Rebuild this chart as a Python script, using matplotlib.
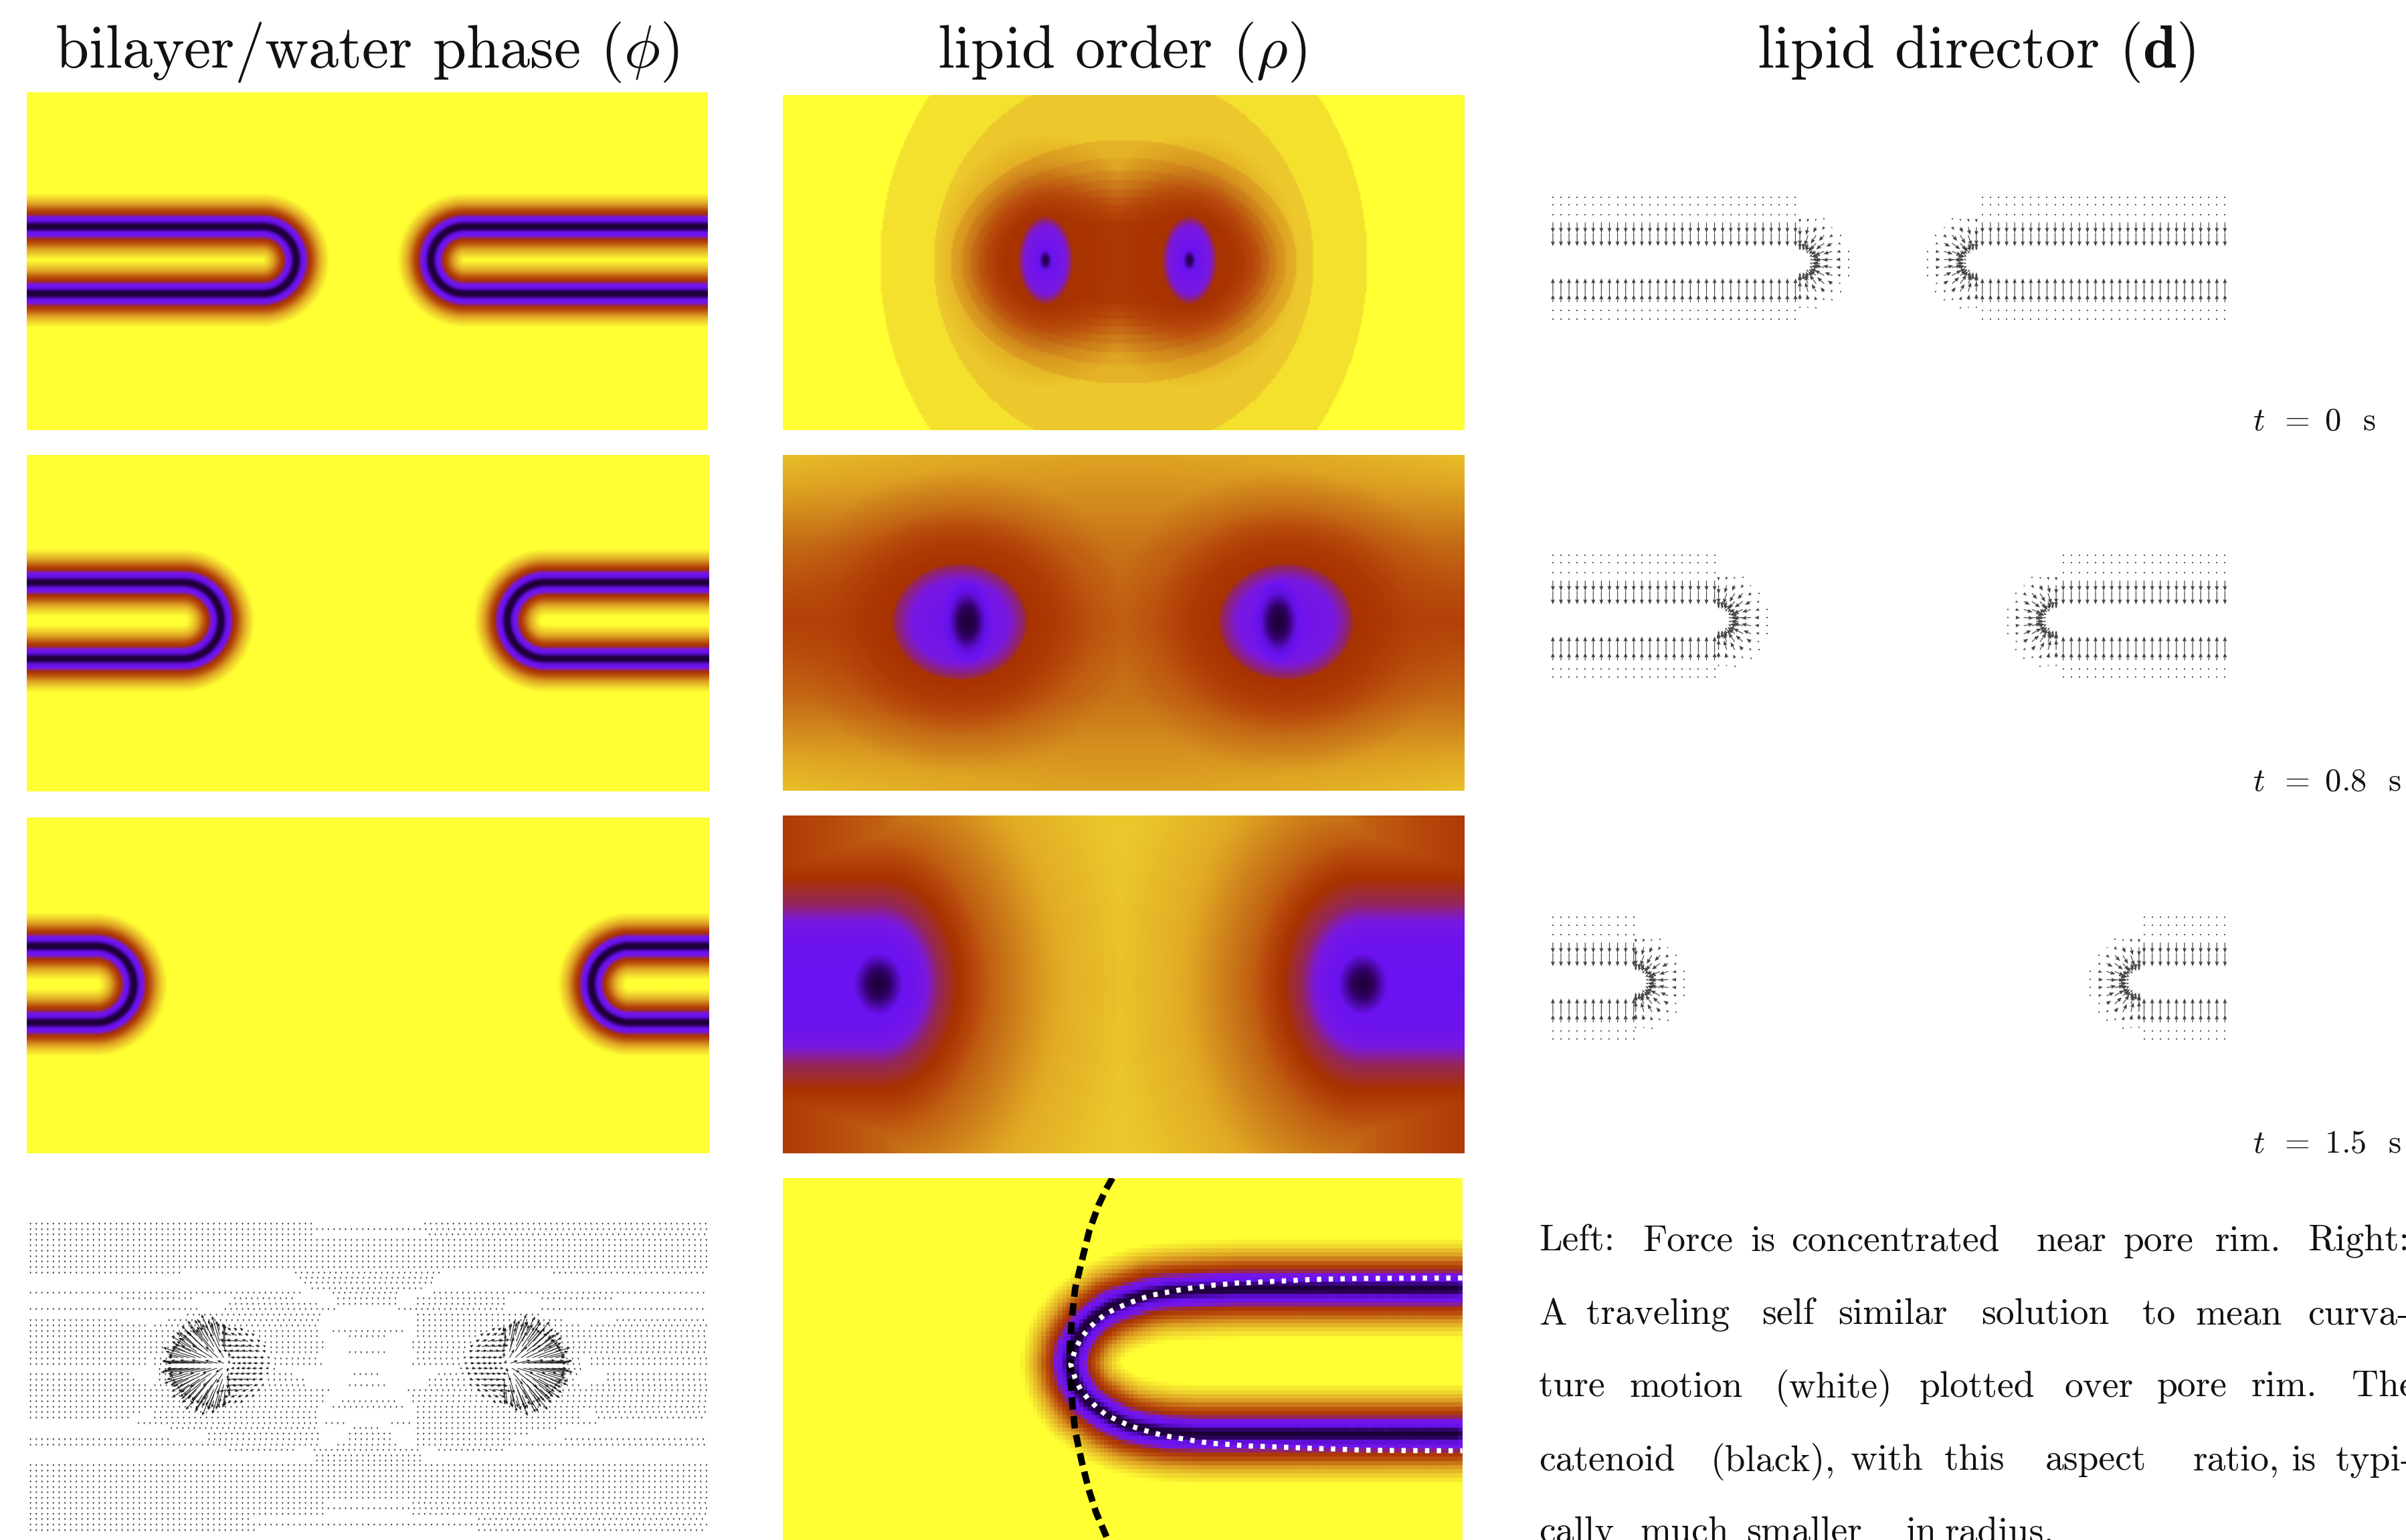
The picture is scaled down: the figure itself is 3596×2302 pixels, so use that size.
import numpy as np
import matplotlib
matplotlib.use("Agg")
import matplotlib.pyplot as plt
from matplotlib.colors import LinearSegmentedColormap

plt.rcParams['mathtext.fontset'] = 'cm'
plt.rcParams['font.family'] = ['cmr10', 'DejaVu Serif']
plt.rcParams['axes.formatter.use_mathtext'] = True

# The simulation fields themselves are not recoverable cell by cell; they are
# rebuilt from the rim positions and level-set sizes.
W, H = 1568.0, 1004.0

TITLES = [r"bilayer/water phase ($\phi$)", r"lipid order ($\rho$)", r"lipid director ($\mathbf{d}$)"]
TITLE_X = [239, 731, 1288]
TIME_LABELS = [r"$t\ \,=\ 0$  s", r"$t\ \,=\ 0.8$  s", r"$t\ \,=\ 1.5$  s"]
TIME_Y = [275, 510, 746]
CAPTION_WORDS = [
    ["Left:", "Force", "is", "concentrated", "near", "pore", "rim.", "Right:"],
    ["A", "traveling", "self", "similar", "solution", "to", "mean", "curva-"],
    ["ture", "motion", "(white)", "plotted", "over", "pore", "rim.", "The"],
    ["catenoid", "(black),", "with", "this", "aspect", "ratio,", "is", "typi-"],
    ["cally", "much", "smaller", "in", "radius."],
]
CAPTION_X = [
    [1003, 1070.5, 1141, 1167.5, 1327, 1384, 1443.6, 1504],
    [1003, 1034, 1148, 1198, 1291, 1396, 1431, 1504],
    [1003, 1062, 1156.6, 1251, 1345.5, 1405.5, 1467, 1532.6],
    [1003, 1115, 1206, 1267, 1333, 1429, 1493, 1522],
    [1003, 1069, 1138, 1242, 1267.5],
]
CAPTION_Y = [807, 855, 902, 950, 997]

# colour scale
CMAP_POS = [0, .08, .2, .27, .33, .42, .5, .6, .72, .85, .95, 1]
CMAP_COL = ['#1c0033', '#2e0060', '#6a12f0', '#7a18e0', '#8a2090', '#a83200',
            '#b84a0c', '#c87418', '#dfa423', '#ecc82c', '#f8ec30', '#ffff33']
cmap = LinearSegmentedColormap.from_list('rim', list(zip(CMAP_POS, CMAP_COL)), N=512)

# phi panels: rim profile (distance from bilayer mid-line -> colour value)
PROFILE_D = [0, 1.2, 2.6, 4, 6, 7.4, 8.5, 11, 15, 18, 22]
PROFILE_V = [0, .03, .14, .2, .25, .36, .42, .52, .72, .87, 1]
# per frame: axis y, half thickness, left rim tip x, right rim tip x
PHI_Y0 = [170, 405, 642]
PHI_H = [22, 25, 25]
PHI_LEFT = [193, 144, 87]
PHI_RIGHT = [281, 331, 386]
PHI_BOX = [(17.5, 461, 60, 280.5), (17.5, 462, 296.5, 516), (17.5, 462, 533, 752)]

RHO_BOX = [(510, 954, 62, 280.5), (510, 954, 296.5, 515.5), (510, 954, 531.5, 752)]
# rho t=0: nested level sets (half width, half height, value)
RHO0_A = [159, 124, 113, 106, 100, 95, 90, 85, 80, 75, 68]
RHO0_B = [181, 125, 80, 68, 60, 54, 48, 43, 38, 33, 28]
RHO0_V = [.92, .85, .77, .73, .69, .65, .61, .57, .53, .5, .46]
RHO0_BLOBS = [(681, 170), (775, 170)]
RHO0_E = [0, .3, 1, 1.3, 1.6]
RHO0_EV = [0, .2, .27, .4, 1]
RHO0_H = [.8, 1.2, 1.8, 2.4]
RHO0_HW = [1, .7, .25, 0]
RHO_HALO = .42
# rho t=0.8
RHO1_BLOBS = [(625, 405.5), (838, 405.5)]
RHO1_CORES = [(630, 405.5), (833, 405.5)]
RHO1_DY = [0, .45, 1]
RHO1_DYV = [.56, .6, .72]
RHO1_E = [0, .85, 1.0, 1.2, 1.5]
RHO1_EV = [.2, .26, .31, .38, 1]
RHO1_HE = [1.2, 1.7, 2.4, 3.2]
RHO1_HW = [1, .8, .3, 0]
RHO1_R = [0, 5, 11, 16, 18]
RHO1_RV = [0, .06, .18, .22, 1]
# rho t=1.5
RHO2_BLOBS = [(572, 642), (888, 642)]
RHO2_DX = [0, 60, 110, 160, 222]
RHO2_DXV = [.85, .82, .7, .55, .45]
RHO2_E = [0, .7, 1, 1.3, 1.8, 2.4, 4, 8]
RHO2_EV = [.2, .21, .26, .36, .43, .55, .75, 1]
RHO2_R = [0, 7, 16, 20]
RHO2_RV = [0, .08, .2, 1]

# close-up panel: mid-line of the rim (read from the zoom)
CLOSE_BOX = (510, 953, 768, 1004)
MID_X = [698, 700, 704, 709, 716, 725, 736, 749, 763, 782, 810, 848, 953]
MID_UP = [889, 879, 871, 864, 858, 852, 848, 844, 842, 841, 840, 840, 840]
MID_LO = [889, 899, 907, 914, 919, 925, 930, 933, 935, 936, 936, 936, 936]
PROFILE_CLOSE_SCALE = 1.5
WHITE_X = [697.8, 700.7, 704.2, 709, 714.7, 721, 728.3, 735.7, 743.5, 751.3, 759, 766.8, 774.6, 782.4,
           790.2, 799, 806.7, 814.5, 823, 839, 854, 870, 887.5, 911, 953]
WHITE_UP = [889.6, 879.8, 873, 866.6, 861.2, 856.4, 852.6, 849.6, 846.6, 844.3, 842.8, 841.3, 840,
            838.9, 837.9, 837.2, 836.4, 836.2, 835.7, 835, 834.2, 833.8, 833.5, 833.3, 833.2]
WHITE_LO = [889.6, 898.6, 905.9, 911.8, 917.5, 922.6, 925.9, 929.3, 931.8, 934.1, 936, 937.4, 938.7,
            940, 941, 941.6, 942.2, 942.7, 943, 943.6, 944.2, 944.7, 945.4, 945.7, 945.8]
BLACK_X = [725, 721, 716, 710, 705.5, 700.7, 698.4, 697.2, 698.4, 700.7, 705, 709.5, 714.3, 722]
BLACK_Y = [768, 775, 785.5, 802, 820, 840, 861, 882, 911, 933, 953, 971, 986, 1004]

# director panels: rim centres per frame, row offsets from the axis
DIR_BOX = (1000, 1460)
DIR_Y0 = [170.5, 404, 640]
DIR_LEFT = [1173, 1120, 1066]
DIR_RIGHT = [1288, 1340, 1394]
DIR_XMIN = 1012
DIR_XMAX = 1450
DOT_ROWS = [-42, -37, -30.5, 32, 37.5]
ARROW_TAIL = [-25.5, -18.8, 21.5, 26.5]
ARROW_HEAD = [-18.8, -10.0, 11.0, 21.5]
FAN_R = [8, 11, 14, 18, 22, 27, 33]
FAN_L = [1.5, 3, 5, 7, 6, 2.5, .2]

# force panel: rows of short arrows. Each row: zoom Y, then spans of zoom X
FORCE_ROWS = [
 (145, [(65, 665), (905, 1505)]), (170, [(65, 1505)]), (193, [(65, 665), (915, 1505)]),
 (218, [(65, 1505)]), (242, [(65, 1505)]), (267, [(65, 1505)]), (292, [(65, 1505)]), (315, [(65, 1505)]),
 (340, [(65, 1505)]), (365, [(65, 390), (630, 940), (1180, 1505)]), (388, [(640, 930)]), (410, [(650, 920)]),
 (435, [(665, 900)]), (455, [(65, 640), (710, 850), (925, 1505)]),
 (480, [(260, 410), (500, 630), (720, 850), (890, 1080), (1155, 1310)]), (505, [(490, 680), (720, 850), (890, 1080)]),
 (528, [(65, 430), (480, 720), (850, 1080), (1155, 1505)]), (553, [(400, 680), (890, 1150)]),
 (578, [(65, 250), (360, 680), (890, 1200), (1315, 1505)]), (602, [(65, 310), (330, 680), (890, 1240), (1260, 1505)]),
 (627, [(65, 680), (710, 860), (890, 1505)]), (650, [(65, 680), (745, 825), (890, 1505)]),
 (677, [(65, 690), (880, 1505)]), (700, [(65, 690), (880, 1505)]), (722, [(65, 680), (745, 825), (890, 1505)]),
 (750, [(65, 310), (330, 680), (890, 1240), (1260, 1505)]), (775, [(65, 310), (330, 690), (880, 1240), (1260, 1505)]),
 (797, [(340, 590), (980, 1240)]), (820, [(65, 275), (340, 630), (755, 815), (935, 1230), (1295, 1505)]),
 (845, [(65, 285), (340, 650), (915, 1230), (1295, 1505)]), (870, [(65, 310), (330, 655), (745, 825), (915, 1240), (1260, 1505)]),
 (892, [(65, 700), (870, 1505)]), (917, [(65, 690), (880, 1505)]), (942, [(65, 690), (730, 840), (880, 1505)]),
 (967, [(65, 680), (710, 860), (890, 1505)]), (990, [(65, 300), (330, 680), (890, 1240), (1270, 1505)]),
 (1015, [(65, 280), (330, 680), (890, 1240), (1275, 1505)]), (1040, [(295, 680), (695, 735), (835, 875), (890, 1275)]),
 (1062, [(365, 680), (755, 815), (890, 1190)]), (1087, [(445, 680), (745, 830), (890, 1125)]),
 (1112, [(65, 360), (445, 680), (745, 830), (890, 1090), (1205, 1505)]), (1137, [(65, 680), (720, 850), (890, 1505)]),
 (1160, [(490, 630), (670, 890), (935, 1080)]), (1185, [(675, 895)]), (1208, [(675, 895)]),
 (1228, [(65, 1505)]), (1253, [(65, 1505)]), (1278, [(65, 1505)]), (1302, [(65, 1505)]), (1327, [(65, 1505)]),
 (1350, [(65, 1505)]), (1375, [(65, 1505)]), (1398, [(65, 690), (880, 1505)]), (1422, [(65, 1505)]),
 (1447, [(65, 690), (880, 1505)]), (1470, [(65, 530), (1020, 1505)]), (1495, [(65, 1505)]), (1520, [(65, 550), (1020, 1505)]),
]
FORCE_BOX = (17.5, 462, 768, 1004)
FORCE_HOT = [(150, 890), (328, 890)]
FORCE_R = [0, 8, 16, 24, 32, 40]
FORCE_L = [4, 10, 18, 22, 9, 1.4]
FORCE_SIDE = [-25, 0, 10]
FORCE_SIDE_F = [.1, .35, 1]


def panel(fig, box):
    x0, x1, y0, y1 = box
    ax = fig.add_axes([x0 / W, 1 - y1 / H, (x1 - x0) / W, (y1 - y0) / H])
    ax.set_xlim(x0, x1)
    ax.set_ylim(y1, y0)
    ax.axis('off')
    return ax


def grid(box, step=1.0):
    x0, x1, y0, y1 = box
    xs = np.arange(x0, x1 + step, step)
    ys = np.arange(y0, y1 + step, step)
    return np.meshgrid(xs, ys)


def show(ax, v, box, interp='bilinear'):
    ax.imshow(v, cmap=cmap, vmin=0, vmax=1, extent=(box[0], box[1], box[3], box[2]),
              origin='upper', aspect='auto', interpolation=interp)


fig = plt.figure(figsize=(35.96, 23.02), dpi=100, facecolor='white')

# phase panels
for i in range(3):
    box = PHI_BOX[i]
    ax = panel(fig, box)
    X, Y = grid(box)
    y0, h = PHI_Y0[i], PHI_H[i]
    dy = Y - y0
    xl = PHI_LEFT[i] - h
    xr = PHI_RIGHT[i] + h
    dl = np.where(X < xl, np.abs(np.abs(dy) - h), np.abs(np.hypot(X - xl, dy) - h))
    dr = np.where(X > xr, np.abs(np.abs(dy) - h), np.abs(np.hypot(X - xr, dy) - h))
    show(ax, np.interp(np.minimum(dl, dr), PROFILE_D, PROFILE_V), box)

# order panels
box = RHO_BOX[0]
ax = panel(fig, box)
X, Y = grid(box)
v = np.ones_like(X)
for a, b, val in zip(RHO0_A, RHO0_B, RHO0_V):
    v[((X - 732) / a) ** 2 + ((Y - 171) / b) ** 2 < 1] = val
w = np.zeros_like(X)
for cx, cy in RHO0_BLOBS:
    w = np.maximum(w, np.interp(np.hypot((X - cx) / 30, (Y - cy) / 35), RHO0_H, RHO0_HW))
v = v * (1 - w) + RHO_HALO * w
for cx, cy in RHO0_BLOBS:
    e = np.hypot((X - cx) / 13.5, (Y - cy) / 22)
    v = np.minimum(v, np.interp(e, RHO0_E, RHO0_EV))
show(ax, v, box)

box = RHO_BOX[1]
ax = panel(fig, box)
X, Y = grid(box)
dxn = np.abs(X - 732) / 222
dyn = np.abs(Y - 405.5) / 110
v = np.interp(dyn, RHO1_DY, RHO1_DYV) - .09 * dxn ** 2 * (1 - dyn) + .1 * dxn ** 2 * dyn ** 2
w = np.zeros_like(X)
for cx, cy in RHO1_BLOBS:
    w = np.maximum(w, np.interp(np.hypot((X - cx) / 36, (Y - cy) / 31), RHO1_HE, RHO1_HW))
v = v * (1 - w) + RHO_HALO * w
for (cx, cy), (qx, qy) in zip(RHO1_BLOBS, RHO1_CORES):
    e = np.hypot((X - cx) / 36, (Y - cy) / 31)
    v = np.minimum(v, np.interp(e, RHO1_E, RHO1_EV))
    v = np.minimum(v, np.interp(np.hypot(X - qx, (Y - qy) * .6), RHO1_R, RHO1_RV))
show(ax, v, box)

box = RHO_BOX[2]
ax = panel(fig, box)
X, Y = grid(box)
v = np.interp(np.abs(X - 732), RHO2_DX, RHO2_DXV)
for k, (cx, cy) in enumerate(RHO2_BLOBS):
    dx = X - cx
    dx = np.where(dx * (1 if k == 0 else -1) > 0, dx, 0)
    e = np.hypot(dx / 30, (Y - cy) / 40)
    v = np.minimum(v, np.interp(e, RHO2_E, RHO2_EV))
    v = np.minimum(v, np.interp(np.hypot(X - cx, (Y - cy) * .8), RHO2_R, RHO2_RV))
show(ax, v, box)

# close-up panel
ax = panel(fig, CLOSE_BOX)
X, Y = grid(CLOSE_BOX, 2.75)
mx = np.r_[MID_X[::-1], MID_X]
my = np.r_[MID_UP[::-1], MID_LO]
t = np.arange(len(mx))
tt = np.linspace(0, len(mx) - 1, 1200)
px, py = np.interp(tt, t, mx), np.interp(tt, t, my)
d = np.sqrt(((X[..., None] - px) ** 2 + (Y[..., None] - py) ** 2).min(axis=-1))
show(ax, np.interp(d / PROFILE_CLOSE_SCALE, PROFILE_D, PROFILE_V), CLOSE_BOX, 'nearest')
ax.plot(BLACK_X, BLACK_Y, color='black', lw=7, ls=(0, (1.9, 1.0)), dash_capstyle='butt', clip_on=True)
ax.plot(np.r_[WHITE_X[::-1], WHITE_X], np.r_[WHITE_UP[::-1], WHITE_LO], color='white', lw=5.5,
        ls=(0, (0.85, 1.45)), dash_capstyle='butt', clip_on=True)

# director panels
STEP = 5.27
for i in range(3):
    y0 = DIR_Y0[i]
    ax = panel(fig, (DIR_BOX[0], DIR_BOX[1], y0 - 50, y0 + 50))
    xs, ys, us, vs = [], [], [], []
    dx_, dy_ = [], []
    sides = [(np.arange(DIR_XMIN, DIR_LEFT[i] - 1, STEP), DIR_LEFT[i], 1),
             (np.arange(DIR_XMAX, DIR_RIGHT[i] + 1, -STEP), DIR_RIGHT[i], -1)]
    for fx, cx, sgn in sides:
        for off in DOT_ROWS:
            for x in fx:
                dx_.append(x); dy_.append(y0 + off)
        for tail, head in zip(ARROW_TAIL, ARROW_HEAD):
            for x in fx:
                xs.append(x); ys.append(y0 + tail); us.append(0); vs.append(head - tail)
        for gx in np.arange(0, 36, STEP / 2):
            for gy in np.arange(-33, 33.1, STEP / 2):
                r = np.hypot(gx, gy)
                ix, iy = round(gx / (STEP / 2)), round((gy + 33) / (STEP / 2))
                fine = r < 14
                if 8 < r < 33 and (fine or (ix % 2 == 0 and iy % 2 == 0)):
                    L = np.interp(r, FAN_R, FAN_L)
                    if L < .8:
                        dx_.append(cx + sgn * gx); dy_.append(y0 + gy)
                    else:
                        xs.append(cx + sgn * gx); ys.append(y0 + gy)
                        us.append(-sgn * gx / r * L); vs.append(-gy / r * L)
    ax.quiver(xs, ys, us, vs, angles='xy', scale_units='xy', scale=1, units='dots', width=1.2,
              headwidth=5, headlength=6, headaxislength=5.5, minlength=.8, color='#444444')
    ax.scatter(dx_, dy_, s=4, marker='s', color='#555555', linewidths=0)

# force panel
ax = panel(fig, FORCE_BOX)
xs, ys, us, vs = [], [], [], []
for row_y, spans in FORCE_ROWS:
    yy = (1780 + row_y / 3) / 2.2934
    for a, b in spans:
        for xz in np.arange(a, b + 1, 12.2):
            xx = xz / 3.268
            ux, uy = 0, 1.4
            for k, (hx, hy) in enumerate(FORCE_HOT):
                sgn = -1 if k == 0 else 1
                r = max(np.hypot(xx - hx, (yy - hy) * 1.5), .5)
                L = np.interp(r, FORCE_R, FORCE_L, right=0) * np.interp((xx - hx) * sgn, FORCE_SIDE, FORCE_SIDE_F)
                if L > 1.5:
                    if (xx - hx) * sgn >= 0:
                        ux, uy = (xx - hx) / r * L, (yy - hy) * 1.5 / r * L
                    else:
                        ux, uy = sgn * L, (yy - hy) / 25 * 2
            xs.append(xx); ys.append(yy); us.append(ux); vs.append(uy)
ax.quiver(xs, ys, us, vs, angles='xy', scale_units='xy', scale=1, units='dots', width=1.1,
          headwidth=4, headlength=5, headaxislength=4.5, minlength=.6, color='#222222')

# text overlay
ov = fig.add_axes([0, 0, 1, 1], facecolor='none')
ov.set_xlim(0, W)
ov.set_ylim(H, 0)
ov.axis('off')
for s, x in zip(TITLES, TITLE_X):
    ov.text(x, 34, s, ha='center', va='center', fontsize=65, color='#111111')
for s, y in zip(TIME_LABELS, TIME_Y):
    ov.text(1468, y, s, ha='left', va='center', fontsize=35, color='#111111', clip_on=False)
for words, xs_, y in zip(CAPTION_WORDS, CAPTION_X, CAPTION_Y):
    for s, x in zip(words, xs_):
        ov.text(x, y, s, ha='left', va='center_baseline', fontsize=40, color='#111111', clip_on=False)

fig.savefig('out.png', dpi=100, facecolor='white')
